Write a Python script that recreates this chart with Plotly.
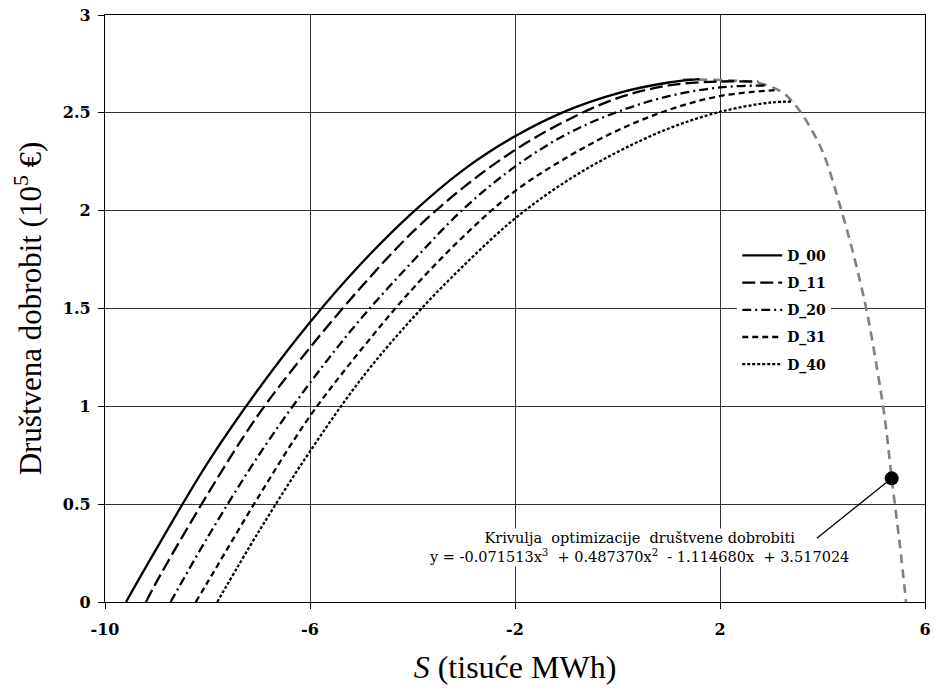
import plotly.graph_objects as go

# ---- data ----
d00_x = [-9.59, -9.0, -8.0, -7.0, -6.0, -5.0, -4.0, -3.0, -2.0, -1.0, 0.0, 1.0, 1.6]
d00_y = [0.0, 0.27, 0.71, 1.09, 1.43, 1.73, 1.99, 2.21, 2.38, 2.51, 2.60, 2.655, 2.672]

d11_x = [-9.2, -9.0, -8.0, -7.0, -6.0, -5.0, -4.0, -3.0, -2.0, -1.0, 0.0, 1.0, 2.0, 2.75]
d11_y = [0.0, 0.1, 0.55, 0.96, 1.30, 1.61, 1.89, 2.12, 2.31, 2.46, 2.575, 2.64, 2.66, 2.66]

d20_x = [-8.72, -8.0, -7.0, -6.0, -5.0, -4.0, -3.0, -2.0, -1.0, 0.0, 1.0, 2.0, 2.95]
d20_y = [0.0, 0.33, 0.75, 1.12, 1.45, 1.74, 2.01, 2.225, 2.39, 2.505, 2.585, 2.63, 2.64]

d31_x = [-8.23, -8.0, -7.0, -6.0, -5.0, -4.0, -3.0, -2.0, -1.0, 0.0, 1.0, 2.0, 3.0, 3.1]
d31_y = [0.0, 0.1, 0.54, 0.95, 1.29, 1.60, 1.87, 2.10, 2.27, 2.41, 2.515, 2.586, 2.615, 2.617]

d40_x = [-7.81, -7.0, -6.0, -5.0, -4.0, -3.0, -2.0, -1.0, 0.0, 1.0, 2.0, 3.0, 3.43]
d40_y = [0.0, 0.36, 0.77, 1.14, 1.45, 1.72, 1.96, 2.15, 2.30, 2.42, 2.505, 2.553, 2.557]

opt_x = [1.28, 2.0, 2.52, 2.91, 3.24, 3.5, 3.75, 4.02, 4.37, 4.63, 4.86, 5.06, 5.22, 5.35, 5.51, 5.63]
opt_y = [2.67, 2.668, 2.66, 2.642, 2.60, 2.53, 2.43, 2.29, 2.0, 1.75, 1.49, 1.20, 0.93, 0.632, 0.29, 0.0]

opt_point_x = [5.35]
opt_point_y = [0.632]

series_names = ["D_00", "D_11", "D_20", "D_31", "D_40"]

x_tick_vals = [-10, -6, -2, 2, 6]
x_tick_labels = ["-10", "-6", "-2", "2", "6"]
y_tick_vals = [0, 0.5, 1, 1.5, 2, 2.5, 3]
y_tick_labels = ["0", "0.5", "1", "1.5", "2", "2.5", "3"]

annot_line1 = "Krivulja  optimizacije  društvene dobrobiti"
annot_line2 = "y = -0.071513x<sup>3</sup>  + 0.487370x<sup>2</sup>  - 1.114680x  + 3.517024"
annot_pos_x = 0.41
annot_pos_y = 0.281
leader_end_x = 3.86
leader_end_y = 0.32

# ---- figure ----
SERIF = "DejaVu Serif"
TITLE_FONT = "Liberation Serif, Times New Roman, serif"
fig = go.Figure()

series = [(d00_x, d00_y), (d11_x, d11_y), (d20_x, d20_y), (d31_x, d31_y), (d40_x, d40_y)]
dashes = ["solid", "13px,5px", "9px,4px,2px,4px", "6px,4px", "3px,2px"]

fig.add_trace(go.Scatter(x=opt_x, y=opt_y, mode="lines", showlegend=False,
                         line=dict(color="#808080", width=2.6, dash="9px,6px", shape="spline")))

for (xs, ys), name, dash in zip(series, series_names, dashes):
    fig.add_trace(go.Scatter(x=xs, y=ys, mode="lines", name=name, legendgroup=name,
                             line=dict(color="black", width=2.3, dash=dash, shape="spline")))

fig.add_trace(go.Scatter(x=opt_point_x, y=opt_point_y, mode="markers", showlegend=False,
                         marker=dict(color="black", size=14)))

fig.add_annotation(x=annot_pos_x, y=annot_pos_y, xref="x", yref="y",
                   xanchor="center", yanchor="middle",
                   text=annot_line1 + "<br>" + annot_line2, showarrow=False,
                   font=dict(family=SERIF, size=14.5, color="black"), bgcolor="white")

# leader line from label to point (drawn after the label so it stays on top)
fig.add_annotation(x=opt_point_x[0], y=opt_point_y[0], xref="x", yref="y",
                   ax=leader_end_x, ay=leader_end_y, axref="x", ayref="y", text="",
                   showarrow=True, arrowhead=0, arrowwidth=1.3, arrowcolor="black")

fig.update_xaxes(range=[-10, 6], tickvals=x_tick_vals, ticktext=x_tick_labels,
                 showgrid=True, gridcolor="#333333", gridwidth=1.2,
                 showline=True, linecolor="black", linewidth=1.3, mirror=True,
                 ticks="outside", ticklen=6, tickcolor="black", tickwidth=1.2,
                 zeroline=False, automargin=False, ticklabeloverflow="allow",
                 ticklabelstandoff=7,
                 tickfont=dict(family=SERIF, size=16, color="black", weight="bold"),
                 title=dict(text="<i>S</i> (tisuće MWh)", standoff=17,
                            font=dict(family=TITLE_FONT, size=32, color="black")))

fig.update_yaxes(range=[0, 3], tickvals=y_tick_vals, ticktext=y_tick_labels,
                 showgrid=True, gridcolor="#333333", gridwidth=1.2,
                 showline=True, linecolor="black", linewidth=1.3, mirror=True,
                 ticks="outside", ticklen=6, tickcolor="black", tickwidth=1.2,
                 zeroline=False, automargin=False, ticklabeloverflow="allow",
                 ticklabelstandoff=4,
                 tickfont=dict(family=SERIF, size=16, color="black", weight="bold"),
                 title=dict(text="Društvena dobrobit (10<sup>5</sup> €)", standoff=11,
                            font=dict(family=TITLE_FONT, size=31, color="black")))

fig.update_layout(
    width=936, height=691,
    margin=dict(l=105, r=11, t=15, b=89),
    paper_bgcolor="white", plot_bgcolor="white",
    showlegend=True,
    legend=dict(x=0.771, y=0.617, xanchor="left", yanchor="top",
                bgcolor="white", borderwidth=0, tracegroupgap=6, itemwidth=40,
                font=dict(family=SERIF, size=14, color="black", weight="bold")),
)

# remove the page's default body margin so the figure fills the window
fig.write_html("out.html", config={"displayModeBar": False},
               post_script="document.body.style.margin='0';")
